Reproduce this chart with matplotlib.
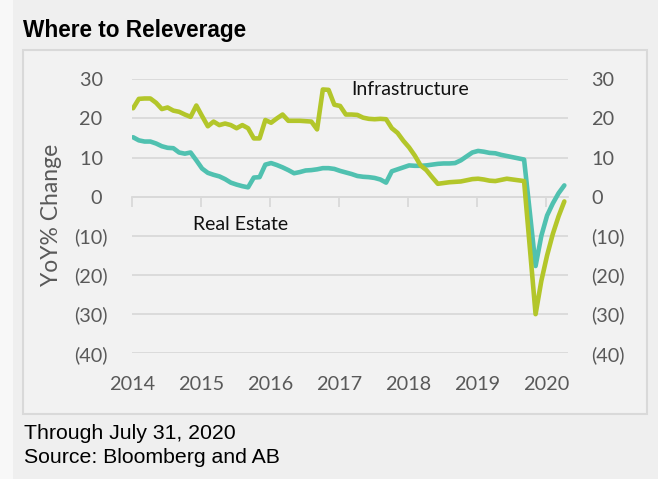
import numpy as np
import pandas as pd
import matplotlib
matplotlib.use("Agg")
import matplotlib.pyplot as plt
from matplotlib.patches import Rectangle

# ---------------- data ----------------
months = pd.date_range("2014-01-01", periods=76, freq="MS")

infrastructure = [
    22.6, 25.0, 25.1, 25.1, 24.0, 22.4, 22.8, 22.0, 21.7, 21.0, 20.4, 23.3,
    20.6, 18.0, 19.2, 18.3, 18.7, 18.3, 17.5, 18.3, 17.5, 14.9, 14.9, 19.6,
    18.9, 20.0, 21.0, 19.4, 19.4, 19.4, 19.3, 19.2, 17.2, 27.4, 27.3, 23.5,
    23.2, 21.0, 21.0, 20.9, 20.2, 19.9, 19.8, 19.9, 19.8, 17.5, 16.3, 14.3,
    12.6, 10.5, 8.0, 6.8, 5.0, 3.3, 3.5, 3.7, 3.8, 3.9, 4.2, 4.5,
    4.6, 4.4, 4.1, 4.0, 4.3, 4.6, 4.4, 4.2, 4.0, -13.0, -30.0, -21.5,
    -15.0, -9.5, -5.0, -1.2,
]

real_estate = [
    15.2, 14.4, 14.1, 14.1, 13.6, 12.9, 12.5, 12.4, 11.3, 11.0, 11.3, 9.3,
    7.2, 6.1, 5.6, 5.2, 4.5, 3.6, 3.1, 2.7, 2.4, 4.9, 5.0, 8.2,
    8.6, 8.1, 7.5, 6.8, 6.0, 6.3, 6.7, 6.8, 7.0, 7.3, 7.3, 7.1,
    6.6, 6.2, 5.8, 5.3, 5.1, 5.0, 4.8, 4.4, 3.6, 6.5, 7.0, 7.5,
    8.0, 7.9, 7.9, 8.0, 8.2, 8.4, 8.5, 8.5, 8.6, 9.3, 10.3, 11.3,
    11.7, 11.5, 11.2, 11.1, 10.7, 10.4, 10.1, 9.8, 9.5, -4.0, -17.7, -10.0,
    -4.8, -1.7, 0.9, 2.9,
]

year_ticks = [2014, 2015, 2016, 2017, 2018, 2019, 2020]
y_ticks = [30, 20, 10, 0, -10, -20, -30, -40]
y_tick_labels = ["30", "20", "10", "0", "(10)", "(20)", "(30)", "(40)"]

series_names = ["Infrastructure", "Real Estate"]

# ---------------- style ----------------
GREEN = "#b3c62a"
TEAL = "#50c1b0"
GRID = "#d9d9d9"
TICK_TXT = "#595959"

x = months.year + (months.month - 1) / 12 + 0.02

W, H = 658, 479
fig = plt.figure(figsize=(W / 100, H / 100), dpi=100, facecolor="#efefef")

fig.patches.append(Rectangle((0, 0), 13 / W, 1, transform=fig.transFigure,
                             facecolor="#f8f8f8", edgecolor="none", zorder=-10))
fig.patches.append(Rectangle((23.3 / W, 1 - 414 / H), (646.7 - 23.3) / W, (414 - 49.5) / H,
                             transform=fig.transFigure, facecolor="#f2f2f2",
                             edgecolor=GRID, linewidth=1.5, zorder=-10))

left_px, right_px, top_px, bot_px = 131.7, 568.0, 79.3, 353.3
ax = fig.add_axes([left_px / W, 1 - bot_px / H, (right_px - left_px) / W, (bot_px - top_px) / H])
ax.set_facecolor("none")
ax.set_xlim(2014, 2014 + (right_px - left_px) / 69.0)
ax.set_ylim(-40, 30)

ax.set_yticks(y_ticks)
ax.set_yticklabels([lab if lab.startswith("(") else lab + " " for lab in y_tick_labels])
ax.yaxis.grid(True, color=GRID, linewidth=1.3)
ax.set_axisbelow(True)
ax.tick_params(axis="y", length=0, pad=17.3, labelsize=14.3, labelcolor=TICK_TXT)
for lab in ax.get_yticklabels():
    lab.set_fontfamily("Lato")

for s in ["top", "left", "right"]:
    ax.spines[s].set_visible(False)
ax.spines["bottom"].set_position(("data", 0))
ax.spines["bottom"].set_color(GRID)
ax.spines["bottom"].set_linewidth(1.3)
ax.set_xticks(year_ticks)
ax.tick_params(axis="x", direction="out", length=7, width=1.3, color=GRID, labelbottom=False)

# right axis labels
ax2 = ax.twinx()
ax2.set_ylim(-40, 30)
ax2.set_yticks(y_ticks)
ax2.set_yticklabels(y_tick_labels)
ax2.tick_params(axis="y", length=0, pad=16.5, labelsize=14.3, labelcolor=TICK_TXT)
for lab in ax2.get_yticklabels():
    lab.set_fontfamily("Lato")
for s in ax2.spines.values():
    s.set_visible(False)
ax2.set_zorder(-1)
ax2.patch.set_visible(False)

# x labels at bottom
secx = ax.secondary_xaxis("bottom")
secx.set_xticks(year_ticks)
secx.set_xticklabels([str(y) for y in year_ticks])
secx.tick_params(length=0, pad=16.3, labelsize=14.3, labelcolor=TICK_TXT)
for lab in secx.get_xticklabels():
    lab.set_fontfamily("Lato")
for s in secx.spines.values():
    s.set_visible(False)

# lines
ax.plot(x, real_estate, color=TEAL, linewidth=3.3, solid_capstyle="round",
        solid_joinstyle="round", zorder=3)
ax.plot(x, infrastructure, color=GREEN, linewidth=3.3, solid_capstyle="round",
        solid_joinstyle="round", zorder=4)

ax.text(2017.18, 27.3, series_names[0], ha="left", va="center", fontsize=14,
        fontfamily="Lato", color="#111111")
ax.text(2014.89, -7.15, series_names[1], ha="left", va="center", fontsize=14,
        fontfamily="Lato", color="#111111")

fig.text(51 / W, 1 - 215 / H, "YoY% Change", rotation=90, ha="center", va="center",
         fontsize=16.5, fontfamily="Lato", color=TICK_TXT)

fig.text(22.7 / W, 1 - 36.7 / H, "Where to Releverage", ha="left", va="baseline",
         fontsize=16.3, fontweight="bold", fontfamily="Liberation Sans", color="black")
fig.text(24 / W, 1 - 439.3 / H, "Through July 31, 2020", ha="left", va="baseline",
         fontsize=15.3, fontfamily="Liberation Sans", color="black")
fig.text(24 / W, 1 - 462.7 / H, "Source: Bloomberg and AB", ha="left", va="baseline",
         fontsize=15.3, fontfamily="Liberation Sans", color="black")

fig.savefig("out.png", dpi=100, facecolor=fig.get_facecolor())
